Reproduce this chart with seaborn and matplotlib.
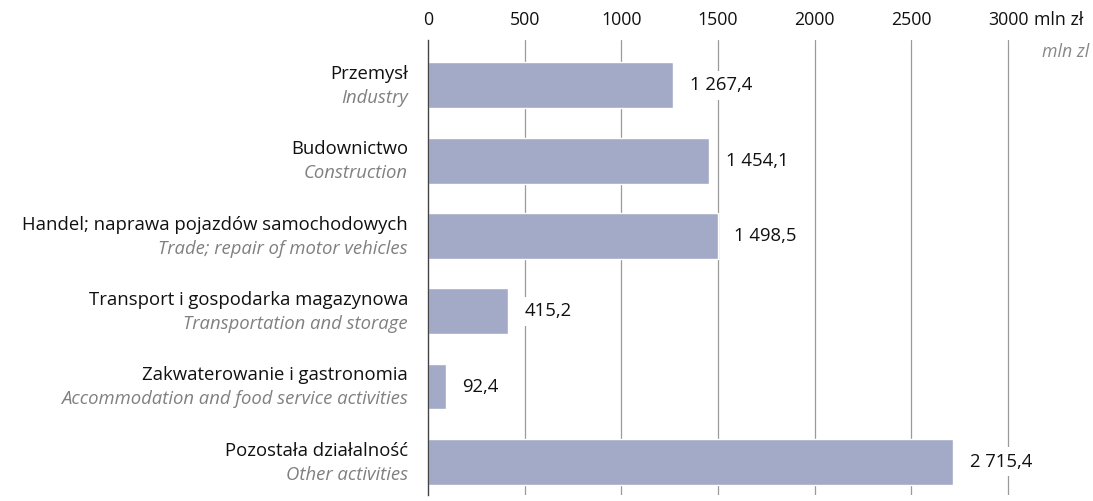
import matplotlib
matplotlib.use("Agg")
import matplotlib.pyplot as plt
import seaborn as sns
import pandas as pd
from matplotlib.transforms import blended_transform_factory

categories_pl = ["Przemysł", "Budownictwo", "Handel; naprawa pojazdów samochodowych",
                 "Transport i gospodarka magazynowa", "Zakwaterowanie i gastronomia",
                 "Pozostała działalność"]
categories_en = ["Industry", "Construction", "Trade; repair of motor vehicles",
                 "Transportation and storage", "Accommodation and food service activities",
                 "Other activities"]
values = [1267.4, 1454.1, 1498.5, 415.2, 92.4, 2715.4]
value_labels = ["1 267,4", "1 454,1", "1 498,5", "415,2", "92,4", "2 715,4"]
xticks = [0, 500, 1000, 1500, 2000, 2500, 3000]
xtick_labels = ["0", "500", "1000", "1500", "2000", "2500", "3000"]

sns.set_style("white")
plt.rcParams["font.family"] = ["Open Sans", "DejaVu Sans"]
FS = 13.3

df = pd.DataFrame({"cat": categories_pl, "val": values})

fig = plt.figure(figsize=(10.93, 5.01), dpi=100)
ax = fig.add_axes([428/1093, 6/501, 1 - 428/1093, 455/501])

sns.barplot(data=df, x="val", y="cat", orient="h", color="#a2aac8", saturation=1,
            width=0.61, ax=ax, zorder=2)
ax.set_xlim(0, 3440)
ax.set_ylim(5.44, -0.6)
ax.set_xlabel("")
ax.set_ylabel("")
for s in ["right", "bottom", "top"]:
    ax.spines[s].set_visible(False)
ax.spines["left"].set_color("#444444")
ax.spines["left"].set_linewidth(1.0)

for t in xticks[1:]:
    ax.axvline(t, color="#9a9a9a", lw=0.9, zorder=0)

ax.xaxis.tick_top()
ax.set_xticks(xticks)
ax.set_xticklabels(xtick_labels, fontsize=12.8, color="#111111")
ax.tick_params(axis="x", length=0, pad=8)
ax.set_yticks([])

# unit labels
ax.annotate("mln zł", xy=(3000, 1.0), xycoords=("data", "axes fraction"),
            xytext=(18.5, 8), textcoords="offset points", ha="left", va="bottom",
            fontsize=12.8, color="#111111")
fig.text(1089/1093, 1 - 52/501, "mln zl", ha="right", va="center", fontsize=12.8,
         color="#888888", style="italic")

trans = blended_transform_factory(ax.transAxes, ax.transData)
for i, (pl, en) in enumerate(zip(categories_pl, categories_en)):
    ax.text(-20/665, i - 0.15, pl, transform=trans, ha="right", va="center",
            fontsize=FS, color="#111111")
    ax.text(-20/665, i + 0.17, en, transform=trans, ha="right", va="center",
            fontsize=FS, color="#808080", style="italic")

for i, (v, lab) in enumerate(zip(values, value_labels)):
    ax.annotate(lab, xy=(v, i), xytext=(12, 0), textcoords="offset points",
                ha="left", va="center", fontsize=FS, color="#111111",
                bbox=dict(boxstyle="square,pad=0.3", fc="white", ec="none"), zorder=3)

fig.savefig("out.png", dpi=100)
